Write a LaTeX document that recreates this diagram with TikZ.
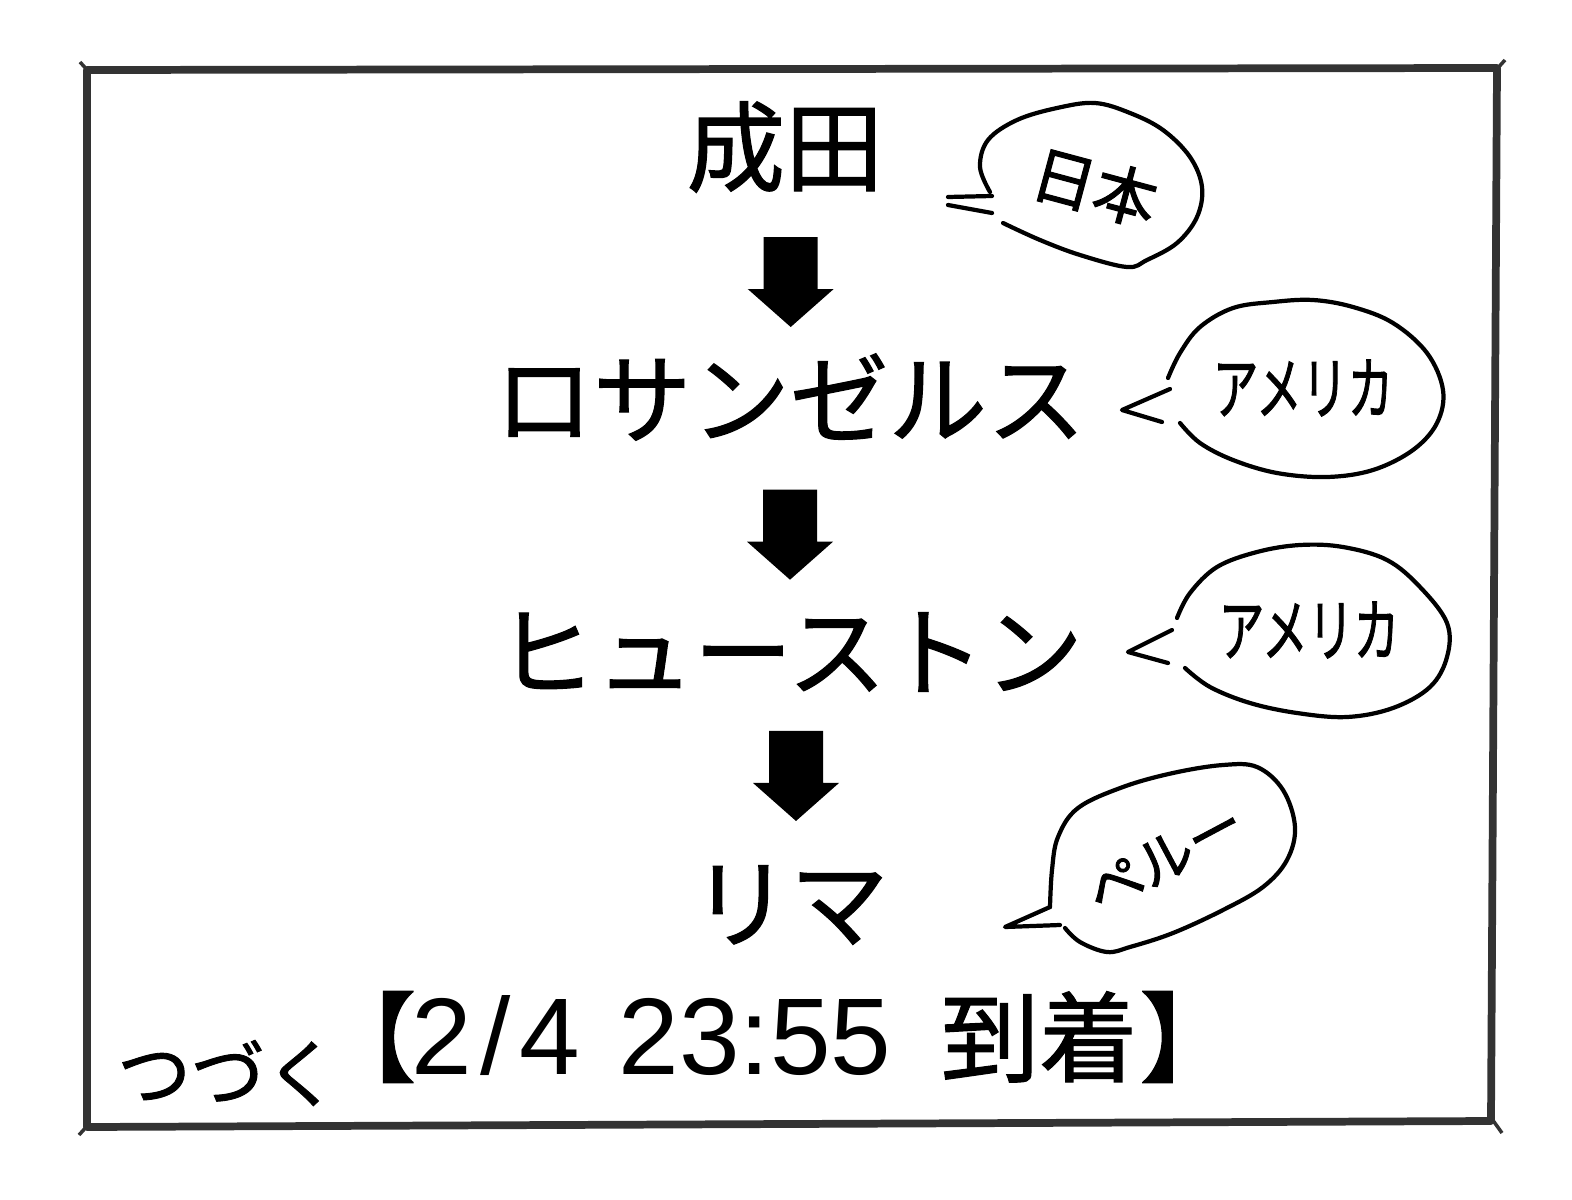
\documentclass[tikz,border=0pt]{standalone}
\usepackage{fontspec}
\newfontfamily\jpfont{Noto Sans CJK JP}[FakeBold=1.2]
\newfontfamily\handfont{Noto Sans CJK JP}[FakeBold=1.6]
\newfontfamily\numfont{Liberation Sans}
\usetikzlibrary{positioning,calc}

\begin{document}
\begin{tikzpicture}[
  x=0.01cm, y=-0.01cm,
  place/.style={font=\jpfont\fontsize{28}{30}\selectfont, inner sep=0pt},
  note/.style={font=\handfont\fontsize{18}{20}\selectfont, inner sep=0pt},
  bubble/.style={line width=1.2pt, line cap=round, line join=round},
  frame/.style={line width=2.2pt, draw=black!80, line join=round},
  downarrow/.pic={\fill (-27,-45) -- (27,-45) -- (27,7) -- (43,7) -- (0,45) -- (-43,7) -- (-27,7) -- cycle;}
]
\useasboundingbox (0,0) rectangle (1572,1200);

% panel frame
\draw[frame] (87,70) -- (1497,68) -- (1491,1121) -- (87,1127) -- cycle;
\draw[line width=1pt, black!80] (80,62) -- (89,72) (1505,60) -- (1496,70)
  (1492,1119) -- (1502,1133) (88,1125) -- (79,1135);

% route
\node[place] (narita) at (785,147) {成田};
\node[place] (losangeles) at (790,397) {ロサンゼルス};
\node[place] (houston) at (790,652) {ヒューストン};
\node[place] (lima) at (790,905) {リマ};
\node[place] (arrival) at (778,1037) {【\hspace{-0.05em}{\numfont\fontsize{31}{33}\selectfont 2\hspace{0.08em}/\hspace{0.08em}4\hspace{0.35em}23:55}\hspace{0.5em}到着\hspace{0.02em}】};
\node[font=\jpfont\fontsize{21}{23}\selectfont, inner sep=0pt] (tsuzuku) at (228,1073) {つづく};

\pic at ($(narita.center)!0.54!(losangeles.center)+(3,0)$) {downarrow};
\pic at ($(losangeles.center)!0.54!(houston.center)$) {downarrow};
\pic at ($(houston.center)!0.49!(lima.center)+(6,0)$) {downarrow};

% speech bubbles
\draw[bubble] plot[smooth, tension=0.6] coordinates {(990,192) (980,167) (988,140) (1017,120)
  (1057,108) (1095,103) (1130,113) (1163,130) (1190,157) (1202,187) (1197,217) (1177,243)
  (1147,260) (1127,267) (1080,255) (1040,240) (1003,223)};
\draw[bubble] (992,196) -- (948,197) (948,205) -- (992,213);
\node[note, rotate=-15] (nihon) at (1095,187) {日本};

\draw[bubble] plot[smooth, tension=0.6] coordinates {(1168,378) (1180,353) (1200,327) (1233,308)
  (1273,302) (1313,300) (1353,307) (1393,323) (1427,353) (1443,390) (1437,423) (1413,450)
  (1373,470) (1327,477) (1277,473) (1233,460) (1200,443) (1180,423)};
\draw[bubble] (1170,389) -- (1122,410) -- (1162,422);
\node[note, font=\handfont\fontsize{13}{15}\selectfont, yscale=1.5] (america1) at (1303,388) {アメリカ};

\draw[bubble] plot[smooth, tension=0.6] coordinates {(1177,618) (1190,593) (1217,567) (1257,552)
  (1300,545) (1343,547) (1387,560) (1420,587) (1447,623) (1447,657) (1430,687) (1393,708)
  (1347,717) (1297,713) (1250,703) (1210,687) (1185,668)};
\draw[bubble] (1172,630) -- (1128,652) -- (1168,663);
\node[note, font=\handfont\fontsize{13}{15}\selectfont, yscale=1.5] (america2) at (1309,630) {アメリカ};

\draw[bubble] plot[smooth, tension=0.6] coordinates {(1050,907) (1052,870) (1058,837) (1078,808)
  (1123,787) (1173,773) (1223,765) (1257,767) (1283,790) (1295,827) (1287,860) (1263,887)
  (1223,910) (1173,933) (1130,947) (1107,952) (1080,942) (1065,928)};
\draw[bubble] (1050,907) -- (1005,927) -- (1060,925);
\node[note, font=\handfont\fontsize{16}{18}\selectfont, rotate=28] (peru) at (1165,858) {ペルー};

\end{tikzpicture}
\end{document}
